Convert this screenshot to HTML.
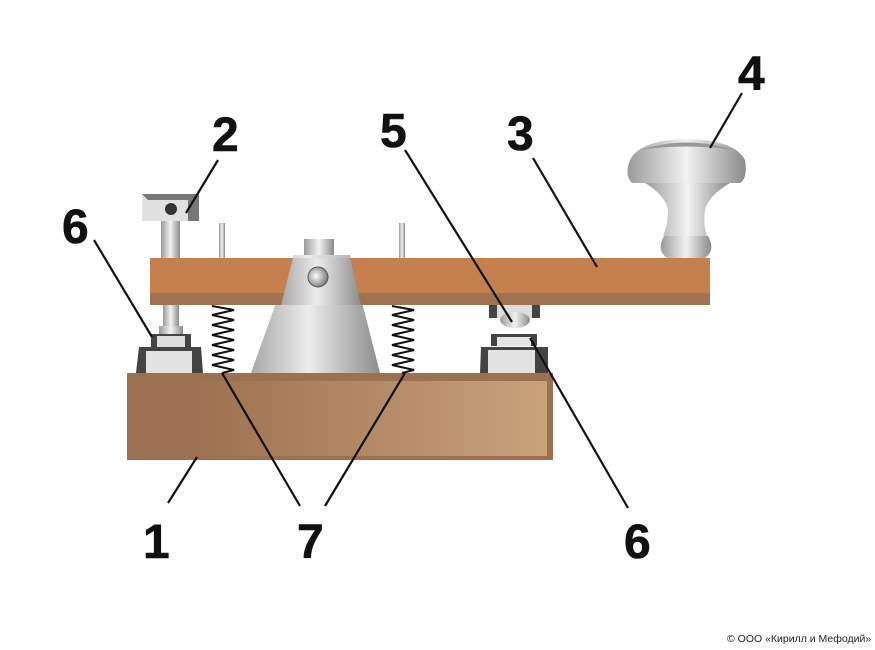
<!DOCTYPE html>
<html><head><meta charset="utf-8"><style>
html,body{margin:0;padding:0;background:#fff;width:875px;height:650px;overflow:hidden}
svg{display:block}
.n{font-family:"Liberation Sans",Arial,sans-serif;font-weight:bold;font-size:48px;fill:#111;stroke:#111;stroke-width:0.6}
</style></head><body>
<svg width="875" height="650" viewBox="0 0 875 650" xmlns="http://www.w3.org/2000/svg">
<defs>
<linearGradient id="met" x1="0" x2="1" y1="0" y2="0">
<stop offset="0" stop-color="#9a9a9a"/><stop offset="0.5" stop-color="#f2f2f2"/><stop offset="1" stop-color="#8a8a8a"/></linearGradient>
<linearGradient id="cone" x1="0" x2="1"><stop offset="0" stop-color="#a8a8a8"/><stop offset="0.45" stop-color="#ececec"/><stop offset="1" stop-color="#8c8c8c"/></linearGradient>
<linearGradient id="wood" x1="0" x2="1"><stop offset="0" stop-color="#9e7252"/><stop offset="1" stop-color="#c9a27a"/></linearGradient>
<radialGradient id="ball" cx="0.4" cy="0.45" r="0.6"><stop offset="0" stop-color="#fff"/><stop offset="1" stop-color="#777"/></radialGradient>
</defs>
<rect x="127" y="373" width="426" height="87" fill="#9c7050"/>
<rect x="200" y="381" width="347" height="75" fill="url(#wood)"/>
<rect x="304" y="239" width="30" height="18" fill="url(#met)"/>
<polygon points="293,255 350,255 380,373 251,373" fill="url(#cone)"/>
<rect x="150" y="258" width="560" height="36" fill="#c4804f"/>
<rect x="150" y="293" width="560" height="12" fill="#a0724f"/>
<polygon points="293,258 350,258 361,305 281,305" fill="url(#cone)"/>
<circle cx="318" cy="277" r="10" fill="url(#ball)" stroke="#555" stroke-width="1"/>
<rect x="219" y="223" width="6" height="35" fill="url(#met)"/>
<rect x="399" y="223" width="6" height="35" fill="url(#met)"/>
<polyline fill="none" stroke="#111" stroke-width="2" points="212,306 234,310 212,315 234,320 212,325 234,330 212,335 234,340 212,345 234,350 212,355 234,360 212,365 234,370 222,373"/>
<polyline fill="none" stroke="#111" stroke-width="2" points="392,306 414,310 392,315 414,320 392,325 414,330 392,335 414,340 392,345 414,350 392,355 414,360 392,365 414,370 402,373"/>
<rect x="142" y="194" width="57" height="27" fill="#e0e0e0"/>
<polygon points="142,194 199,194 199,221 188,221 188,200 148,200" fill="#777"/>
<circle cx="171" cy="209" r="6" fill="#333"/>
<rect x="161" y="221" width="19" height="37" fill="url(#met)"/>
<rect x="163" y="305" width="16" height="25" fill="url(#met)"/>
<rect x="159" y="326" width="24" height="8" fill="url(#met)"/>
<rect x="151" y="334" width="40" height="13" fill="#444"/><rect x="157" y="336" width="28" height="11" fill="#ddd"/>
<polygon points="139,347 201,347 203,373 136,373" fill="#444"/><rect x="146" y="351" width="46" height="22" fill="#e2e2e2"/>
<rect x="489" y="305" width="51" height="13" fill="#444"/><rect x="497" y="305" width="35" height="13" fill="#ddd"/>
<ellipse cx="515" cy="320" rx="15" ry="8" fill="url(#met)"/>
<rect x="491" y="334" width="46" height="12" fill="#444"/><rect x="497" y="337" width="34" height="9" fill="#e4e4e4"/>
<polygon points="481,347 548,347 548,373 480,373" fill="#444"/><rect x="488" y="350" width="47" height="23" fill="#e2e2e2"/>
<path d="M645,183 Q665,195 668,210 Q668,225 663,236 L707,236 Q703,225 705,210 Q709,195 730,183 Z" fill="url(#met)"/>
<path d="M630,160 Q640,140 686,139 Q735,140 745,160 Q748,178 740,183 L632,183 Q624,175 630,160 Z" fill="url(#met)"/>
<path d="M640,150 Q686,135 735,150 Q686,143 640,150 Z" fill="#999"/>
<path d="M664,236 L708,236 Q716,250 705,258 L667,258 Q656,250 664,236 Z" fill="url(#met)"/>
<g stroke="#111" stroke-width="2.2" fill="none">
<line x1="218" y1="160" x2="186" y2="213"/>
<line x1="405" y1="150" x2="512" y2="322"/>
<line x1="533" y1="158" x2="597" y2="267"/>
<line x1="742" y1="93" x2="710" y2="148"/>
<line x1="94" y1="240" x2="152" y2="337"/>
<line x1="628" y1="508" x2="530" y2="338"/>
<line x1="168" y1="503" x2="197" y2="457"/>
<line x1="300" y1="506" x2="222" y2="373"/>
<line x1="325" y1="506" x2="405" y2="373"/>
</g>
<text class="n" x="212" y="151">2</text>
<text class="n" x="380" y="147">5</text>
<text class="n" x="507" y="150">3</text>
<text class="n" x="738" y="90">4</text>
<text class="n" x="62" y="243">6</text>
<text class="n" x="143" y="558">1</text>
<text class="n" x="297" y="558">7</text>
<text class="n" x="624" y="558">6</text>
<text x="727" y="642" font-family="'Liberation Sans',Arial,sans-serif" font-size="10.5" fill="#222">© ООО «Кирилл и Мефодий»</text>
</svg>
</body></html>
